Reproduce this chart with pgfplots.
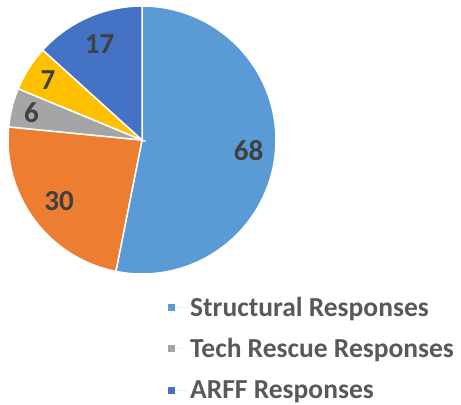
\documentclass[border=0pt]{standalone}
\usepackage{fontspec}
\setmainfont{Carlito}
\usepackage{pgfplots}
\usepackage{pgfplotstable}
\pgfplotsset{compat=1.18}

\definecolor{cStruct}{HTML}{5B9BD5}
\definecolor{cOrange}{HTML}{ED7D31}
\definecolor{cTech}{HTML}{A5A5A5}
\definecolor{cYellow}{HTML}{FFC000}
\definecolor{cARFF}{HTML}{4472C4}
\definecolor{lbl}{HTML}{404040}
\definecolor{legtxt}{HTML}{595959}

% slices, clockwise from 12 o'clock
\pgfplotstableread{
name value
Structural 68
Other 30
Tech 6
Other2 7
ARFF 17
}\piedata

\newcommand\getval[2]{\pgfplotstablegetelem{#1}{value}\of\piedata\let#2\pgfplotsretval}
\getval{0}\vA \getval{1}\vB \getval{2}\vC \getval{3}\vD \getval{4}\vE
\pgfmathsetmacro\tot{\vA+\vB+\vC+\vD+\vE}
% boundary angles
\pgfmathsetmacro\aA{90}
\pgfmathsetmacro\aB{\aA-\vA/\tot*360}
\pgfmathsetmacro\aC{\aB-\vB/\tot*360}
\pgfmathsetmacro\aD{\aC-\vC/\tot*360}
\pgfmathsetmacro\aE{\aD-\vD/\tot*360}
\pgfmathsetmacro\aF{\aE-\vE/\tot*360}
% mid angles for the labels
\pgfmathsetmacro\mA{(\aA+\aB)/2}
\pgfmathsetmacro\mB{(\aB+\aC)/2}
\pgfmathsetmacro\mC{(\aC+\aD)/2}
\pgfmathsetmacro\mD{(\aD+\aE)/2}
\pgfmathsetmacro\mE{(\aE+\aF)/2}

\begin{document}
\begin{tikzpicture}
\path[use as bounding box] (0,0) rectangle (461bp,-405bp);
\begin{axis}[
    at={(142bp,-140bp)}, anchor=center,
    width=268bp, height=268bp, scale only axis,
    xmin=-1, xmax=1, ymin=-1, ymax=1,
    hide axis, clip=false,
    legend style={at={(0.597,-0.277)}, anchor=west, draw=none, fill=none,
        font=\fontsize{27.5bp}{31bp}\selectfont\bfseries\color{legtxt},
        row sep=17bp, inner sep=0pt},
    legend cell align=left,
    legend image code/.code={\fill[#1, draw=none] (0bp,-3.5bp) rectangle (7bp,3.5bp);
        \path[draw=none] (0bp,0bp) -- (20bp,0bp);},
    every axis plot/.append style={draw=white, line width=1.5bp, samples=90, variable=\t},
]
\addplot[fill=cStruct, domain=\aB:\aA] ({cos(\t)},{sin(\t)}) -- (axis cs:0,0) -- cycle;
\addlegendentry{Structural Responses}
\addplot[fill=cOrange, domain=\aC:\aB, forget plot] ({cos(\t)},{sin(\t)}) -- (axis cs:0,0) -- cycle;
\addplot[fill=cTech, domain=\aD:\aC] ({cos(\t)},{sin(\t)}) -- (axis cs:0,0) -- cycle;
\addlegendentry{Tech Rescue Responses}
\addplot[fill=cYellow, domain=\aE:\aD, forget plot] ({cos(\t)},{sin(\t)}) -- (axis cs:0,0) -- cycle;
\addplot[fill=cARFF, domain=\aF:\aE] ({cos(\t)},{sin(\t)}) -- (axis cs:0,0) -- cycle;
\addlegendentry{ARFF Responses}

\begin{scope}[every node/.style={font=\fontsize{29bp}{33bp}\selectfont\bfseries, text=lbl}]
\node at (axis cs:{0.80*cos(\mA)},{0.80*sin(\mA)}) {\vA};
\node at (axis cs:{0.77*cos(\mB)},{0.77*sin(\mB)}) {\vB};
\node at (axis cs:{0.85*cos(\mC)},{0.85*sin(\mC)}) {\vC};
\node at (axis cs:{0.83*cos(\mD)},{0.83*sin(\mD)}) {\vD};
\node at (axis cs:{0.78*cos(\mE)},{0.78*sin(\mE)}) {\vE};
\end{scope}
\end{axis}
\end{tikzpicture}
\end{document}
